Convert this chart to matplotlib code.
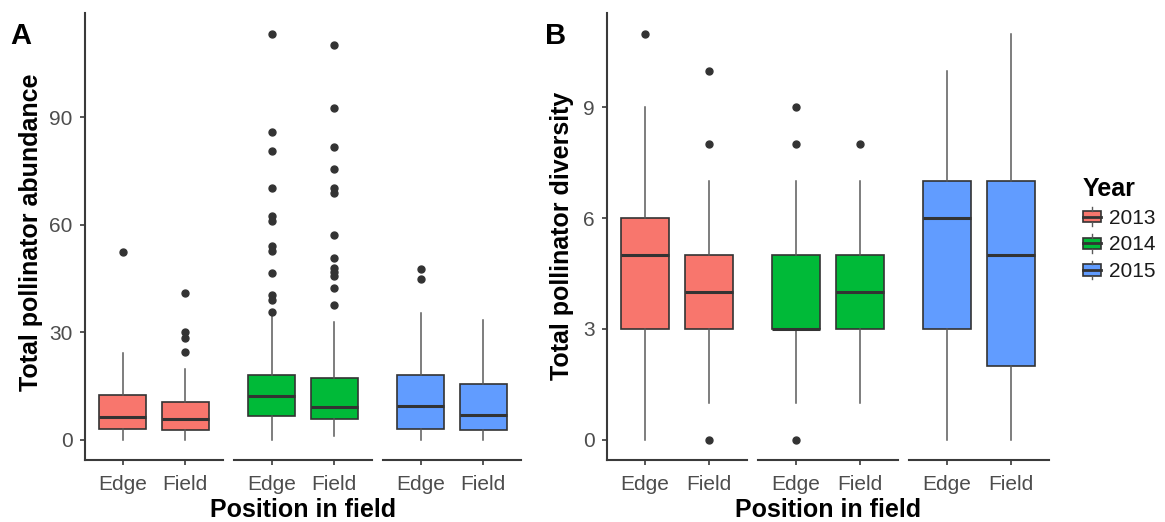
import matplotlib
matplotlib.use("Agg")
import matplotlib.pyplot as plt
from matplotlib.patches import Rectangle, Patch
from matplotlib.lines import Line2D
from matplotlib.legend_handler import HandlerBase

plt.rcParams['font.family'] = ['Liberation Sans', 'DejaVu Sans']

# ---------------- data ----------------
years = ['2013', '2014', '2015']
positions = ['Edge', 'Field']
year_colors = ['#F8766D', '#00BA38', '#619CFF']

# Panel A: Total pollinator abundance  (per year: [Edge, Field])
abund_whislo = [[0, 0], [0, 1], [0, 0]]
abund_q1 = [[3.1, 2.7], [6.7, 5.7], [3.1, 2.6]]
abund_med = [[6.2, 5.8], [12.1, 9.2], [9.3, 7.0]]
abund_q3 = [[12.6, 10.4], [18.2, 17.1], [18.2, 15.6]]
abund_whishi = [[24.3, 19.8], [34.6, 33.0], [35.4, 33.5]]
abund_fliers = [
    [[52.3], [41.1, 30.0, 28.3, 24.5]],
    [[113.4, 85.8, 80.7, 70.3, 62.4, 61.0, 54.0, 52.6, 46.6, 40.5, 39.1, 35.6],
     [110.1, 92.6, 81.8, 75.5, 70.3, 68.9, 57.3, 50.6, 48.0, 46.8, 45.6, 42.4, 37.6]],
    [[47.7, 44.9], []],
]
abund_ticks = [0, 30, 60, 90]

# Panel B: Total pollinator diversity
div_whislo = [[0, 1], [1, 1], [0, 0]]
div_q1 = [[3, 3], [3, 3], [3, 2]]
div_med = [[5, 4], [3, 4], [6, 5]]
div_q3 = [[6, 5], [5, 5], [7, 7]]
div_whishi = [[9, 7], [7, 7], [10, 11]]
div_fliers = [
    [[11], [10, 8, 0]],
    [[9, 8, 0], [8]],
    [[], []],
]
div_ticks = [0, 3, 6, 9]

# ---------------- layout ----------------
W, H = 1165, 522
fig = plt.figure(figsize=(W / 100, H / 100), dpi=100)

AX_BOTTOM_PX, AX_TOP_PX = 460, 13.3
A_LEFTS, A_W = [85, 234, 383], 138
B_LEFTS, B_W = [607, 758, 909], 140

GREY_TXT = '#4D4D4D'
AXIS_COL = '#3a3a3a'


def ylimits(whislo, whishi, fliers):
    vals = []
    for i in range(len(whislo)):
        for j in range(len(whislo[i])):
            vals += [whislo[i][j], whishi[i][j]] + list(fliers[i][j])
    lo, hi = min(vals), max(vals)
    pad = 0.05 * (hi - lo)
    return lo - pad, hi + pad


def draw_panel(lefts, width, whislo, q1, med, q3, whishi, fliers, ticks):
    ylo, yhi = ylimits(whislo, whishi, fliers)
    for i, yr in enumerate(years):
        ax = fig.add_axes([lefts[i] / W, (H - AX_BOTTOM_PX) / H,
                           width / W, (AX_BOTTOM_PX - AX_TOP_PX) / H])
        stats = []
        for j, pos in enumerate(positions):
            stats.append(dict(med=med[i][j], q1=q1[i][j], q3=q3[i][j],
                              whislo=whislo[i][j], whishi=whishi[i][j],
                              fliers=fliers[i][j], label=pos))
        ax.bxp(stats, positions=[1, 2], widths=0.75, patch_artist=True,
               showcaps=False,
               boxprops=dict(facecolor=year_colors[i], edgecolor='#333333', linewidth=1.2),
               medianprops=dict(color='#333333', linewidth=2.2, solid_capstyle='butt'),
               whiskerprops=dict(color='#5a5a5a', linewidth=1.1),
               flierprops=dict(marker='o', markerfacecolor='#333333',
                               markeredgecolor='#333333', markersize=5.0))
        ax.set_xlim(0.4, 2.6)
        ax.set_ylim(ylo, yhi)
        ax.set_xticks([1, 2])
        ax.set_xticklabels(positions)
        ax.set_yticks(ticks)
        ax.set_yticklabels([str(t) for t in ticks])
        for s in ['top', 'right']:
            ax.spines[s].set_visible(False)
        ax.spines['bottom'].set_color(AXIS_COL)
        ax.spines['bottom'].set_linewidth(1.5)
        ax.spines['left'].set_color(AXIS_COL)
        ax.spines['left'].set_linewidth(1.5)
        ax.tick_params(axis='x', length=3.5, width=1.2, color=AXIS_COL,
                       labelsize=15, labelcolor=GREY_TXT, pad=7)
        ax.tick_params(axis='y', length=3.5, width=1.2, color=AXIS_COL,
                       labelsize=15, labelcolor=GREY_TXT, pad=5.5)
        if i > 0:
            ax.spines['left'].set_visible(False)
            ax.tick_params(axis='y', left=False, labelleft=False)
        ax.set_facecolor('none')


draw_panel(A_LEFTS, A_W, abund_whislo, abund_q1, abund_med, abund_q3,
           abund_whishi, abund_fliers, abund_ticks)
draw_panel(B_LEFTS, B_W, div_whislo, div_q1, div_med, div_q3,
           div_whishi, div_fliers, div_ticks)

# axis titles
fig.text(31 / W, 1 - 232 / H, 'Total pollinator abundance', rotation=90,
         ha='center', va='center', fontsize=18, fontweight='bold')
fig.text(562 / W, 1 - 236 / H, 'Total pollinator diversity', rotation=90,
         ha='center', va='center', fontsize=18, fontweight='bold')
fig.text(303 / W, 1 - 517 / H, 'Position in field', ha='center',
         va='baseline', fontsize=18, fontweight='bold')
fig.text(828 / W, 1 - 517 / H, 'Position in field', ha='center',
         va='baseline', fontsize=18, fontweight='bold')

# panel tags
fig.text(10 / W, 1 - 44.3 / H, 'A', ha='left', va='baseline',
         fontsize=21, fontweight='bold')
fig.text(545 / W, 1 - 44.3 / H, 'B', ha='left', va='baseline',
         fontsize=21, fontweight='bold')


# legend with boxplot-style keys
class BoxKey(HandlerBase):
    def create_artists(self, legend, orig, xd, yd, w, h, fs, trans):
        x0, y0 = -xd, -yd
        fc = orig.get_facecolor()
        rect = Rectangle((x0, y0 + 0.2 * h), w, 0.6 * h, facecolor=fc,
                         edgecolor='#333333', lw=1.2, transform=trans)
        med = Line2D([x0, x0 + w], [y0 + 0.5 * h] * 2, color='#333333',
                     lw=2.0, transform=trans)
        wl = Line2D([x0 + w / 2] * 2, [y0, y0 + 0.2 * h], color='#5a5a5a',
                    lw=1.0, transform=trans)
        wh = Line2D([x0 + w / 2] * 2, [y0 + 0.8 * h, y0 + h], color='#5a5a5a',
                    lw=1.0, transform=trans)
        return [rect, med, wl, wh]


handles = [Patch(facecolor=c) for c in year_colors]
leg = fig.legend(handles, years, handler_map={Patch: BoxKey()},
                 loc='upper left', bbox_to_anchor=(1083 / W, 1 - 177 / H),
                 frameon=False, borderpad=0, borderaxespad=0,
                 handlelength=0.87, handleheight=1.0, handletextpad=0.4,
                 labelspacing=0.3, fontsize=15, title='Year',
                 title_fontproperties={'weight': 'bold', 'size': 18},
                 alignment='left')
for t in leg.get_texts():
    t.set_color('#1a1a1a')

fig.savefig('out.png', dpi=100)
